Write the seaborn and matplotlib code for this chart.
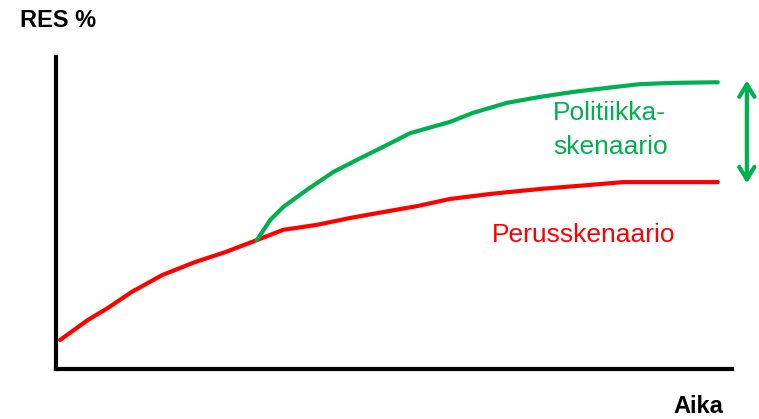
import matplotlib
matplotlib.use("Agg")
import matplotlib.pyplot as plt
import pandas as pd
import seaborn as sns

base_time = [0.6, 4.7, 7.7, 11.2, 15.7, 20.6, 25.1, 29.7, 33.6, 38.6, 43.5, 48.4,
             53.4, 58.3, 64.2, 71.6, 79.0, 83.9, 97.9]
base_res = [9.3, 15.7, 19.6, 24.7, 30.1, 34.3, 37.5, 41.3, 44.6, 46.2, 48.4, 50.3,
            52.2, 54.5, 56.1, 57.7, 59.0, 59.9, 59.9]

policy_time = [29.7, 31.7, 33.6, 37.1, 41.0, 44.5, 48.4, 52.4, 58.3, 61.7, 66.7,
               71.6, 76.5, 81.5, 86.4, 91.3, 97.9]
policy_res = [41.3, 47.8, 51.9, 57.4, 63.1, 67.0, 71.2, 75.6, 79.2, 82.1, 85.3,
              87.2, 88.8, 90.1, 91.3, 91.7, 91.9]

RED = "#FF0000"
GREEN = "#00B050"

sns.set_style("white")
plt.rcParams["font.family"] = ["Liberation Sans", "DejaVu Sans"]

df = pd.concat([
    pd.DataFrame({"Aika": base_time, "RES": base_res, "scenario": "Perusskenaario"}),
    pd.DataFrame({"Aika": policy_time, "RES": policy_res, "scenario": "Politiikkaskenaario"}),
])

fig = plt.figure(figsize=(7.59, 4.19), dpi=100)
ax = fig.add_axes([0.0738, 0.1193, 0.8906, 0.7447])

sns.lineplot(data=df, x="Aika", y="RES", hue="scenario",
             palette={"Perusskenaario": RED, "Politiikkaskenaario": GREEN},
             linewidth=3, sort=False, legend=False, ax=ax)
for line in ax.lines:
    line.set_solid_joinstyle("round")

ax.set_xlim(0, 100)
ax.set_ylim(0, 100)
ax.set_xticks([])
ax.set_yticks([])
ax.set_xlabel("")
ax.set_ylabel("")
sns.despine(ax=ax)
for side in ["left", "bottom"]:
    ax.spines[side].set_linewidth(3)
    ax.spines[side].set_color("black")

# labels
ax.text(73.5, 82, "Politiikka-", color=GREEN, fontsize=19, va="center", ha="left")
ax.text(73.5, 71.2, "skenaario", color=GREEN, fontsize=19, va="center", ha="left")
ax.text(64.5, 43, "Perusskenaario", color=RED, fontsize=19, va="center", ha="left")

# double arrow showing the gap
ax.annotate("", xy=(102.2, 92.5), xytext=(102.2, 59.5),
            arrowprops=dict(arrowstyle="<->, head_length=0.9, head_width=0.55",
                            color=GREEN, lw=3, shrinkA=0, shrinkB=0),
            annotation_clip=False)

fig.text(0.0764, 0.952, "RES %", fontsize=17, fontweight="bold", color="black",
         ha="center", va="center")
fig.text(0.92, 0.029, "Aika", fontsize=17, fontweight="bold", color="black",
         ha="center", va="center")

fig.savefig("out.png", dpi=100)
